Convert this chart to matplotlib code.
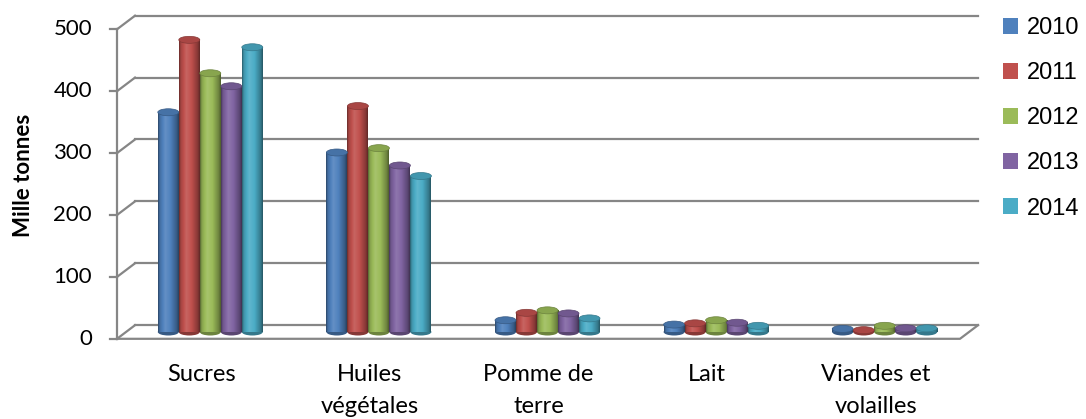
import numpy as np
import matplotlib
matplotlib.use('Agg')
import matplotlib.pyplot as plt
from matplotlib.patches import Ellipse, Patch
from matplotlib.colors import to_rgb

# data (mille tonnes)
categories = ['Sucres', 'Huiles\nvégétales', 'Pomme de\nterre', 'Lait', 'Viandes et\nvolailles']
years = ['2010', '2011', '2012', '2013', '2014']
v2010 = [355, 290, 19, 12, 5]
v2011 = [472, 365, 31, 14, 3]
v2012 = [418, 297, 35, 19, 10]
v2013 = [397, 269, 30, 15, 6]
v2014 = [460, 252, 22, 10, 6]
y_ticks = [0, 100, 200, 300, 400, 500]

series = [v2010, v2011, v2012, v2013, v2014]
colors = ['#4F81BD', '#C0504D', '#9BBB59', '#8064A2', '#4BACC6']

W, H = 1086, 419
fig = plt.figure(figsize=(W / 100, H / 100), dpi=100)
# axes = middle depth plane of the pseudo 3d box
ax = fig.add_axes([126 / W, 87 / H, 843 / W, 309.5 / H])
ax.set_xlim(-0.5, 4.5)
ax.set_ylim(0, 500)
ax.axis('off')

ux = 5 / 843          # data units per pixel (x)
uy = 500 / 309.5      # data units per pixel (y)
dx, dy = 9 * ux, 6.8 * uy   # half depth offset
grid_c = '#868686'
lw = 1.6

tick_font = 'Lato'
txt_c = '#000000'
for v in y_ticks:
    # back wall line
    ax.plot([-0.5 + dx, 4.5 + dx], [v + dy, v + dy], color=grid_c, lw=lw, clip_on=False, zorder=1)
    # side diagonal
    ax.plot([-0.5 - dx, -0.5 + dx], [v - dy, v + dy], color=grid_c, lw=lw, clip_on=False, zorder=1)
    # tick mark
    ax.plot([-0.5 - dx - 7 * ux, -0.5 - dx], [v - dy, v - dy], color=grid_c, lw=lw, clip_on=False, zorder=1)
    ax.text(-0.5 - dx - 25 * ux, v - dy, str(v), ha='right', va='center',
            fontsize=16, family=tick_font, color=txt_c)

# front axis and floor
ax.plot([-0.5 - dx, -0.5 - dx], [-dy, 500 - dy], color=grid_c, lw=lw, clip_on=False, zorder=1)
ax.plot([-0.5 - dx, 4.5 - dx, 4.5 + dx], [-dy, -dy, dy], color=grid_c, lw=lw, clip_on=False, zorder=1)

# cylinder shading profile
N = 64
t = np.linspace(0, 1, N)
shade = np.interp(t, [0, 0.08, 0.35, 0.6, 0.9, 1], [-0.45, -0.15, 0.12, 0.0, -0.3, -0.5])


def shaded(c, s):
    c = np.array(to_rgb(c))
    s = np.atleast_1d(s)[:, None]
    out = np.where(s < 0, c * (1 + s), c + (1 - c) * s)
    return np.clip(out, 0, 1)


bw = 21 * ux
eh = 7 * uy
for k, vals in enumerate(series):
    grad = shaded(colors[k], shade)[None, :, :]
    for i, val in enumerate(vals):
        xc = i + (k - 2) * bw
        x0 = xc - bw / 2
        ax.add_patch(Ellipse((xc, 0), bw, eh, facecolor=shaded(colors[k], -0.3)[0],
                             edgecolor='none', clip_on=False, zorder=2))
        ax.imshow(grad, extent=(x0, x0 + bw, 0, val), aspect='auto',
                  interpolation='bilinear', zorder=3)
        ax.add_patch(Ellipse((xc, val), bw, eh, facecolor=shaded(colors[k], -0.12)[0],
                             edgecolor=shaded(colors[k], -0.3)[0], lw=0.5,
                             clip_on=False, zorder=4))

ax.set_xlim(-0.5, 4.5)
ax.set_ylim(0, 500)

for i, lab in enumerate(categories):
    ax.text(i - dx, -dy - 25 * uy, lab, ha='center', va='top', fontsize=17,
            family=tick_font, linespacing=1.65, color=txt_c)

fig.text(24 / W, 1 - 175 / H, 'Mille tonnes', rotation=90, ha='center', va='center',
         fontsize=16, fontweight='bold', family=tick_font, color=txt_c)

handles = [Patch(facecolor=c, edgecolor='none') for c in colors]
fig.legend(handles, years, loc='upper left', bbox_to_anchor=(1003 / W, 1 - 17 / H),
           frameon=False, prop={'family': 'Liberation Sans', 'size': 17},
           handlelength=0.65, handleheight=0.65, handletextpad=0.35,
           labelspacing=0.98, borderpad=0, borderaxespad=0)

fig.savefig('out.png', dpi=100)
